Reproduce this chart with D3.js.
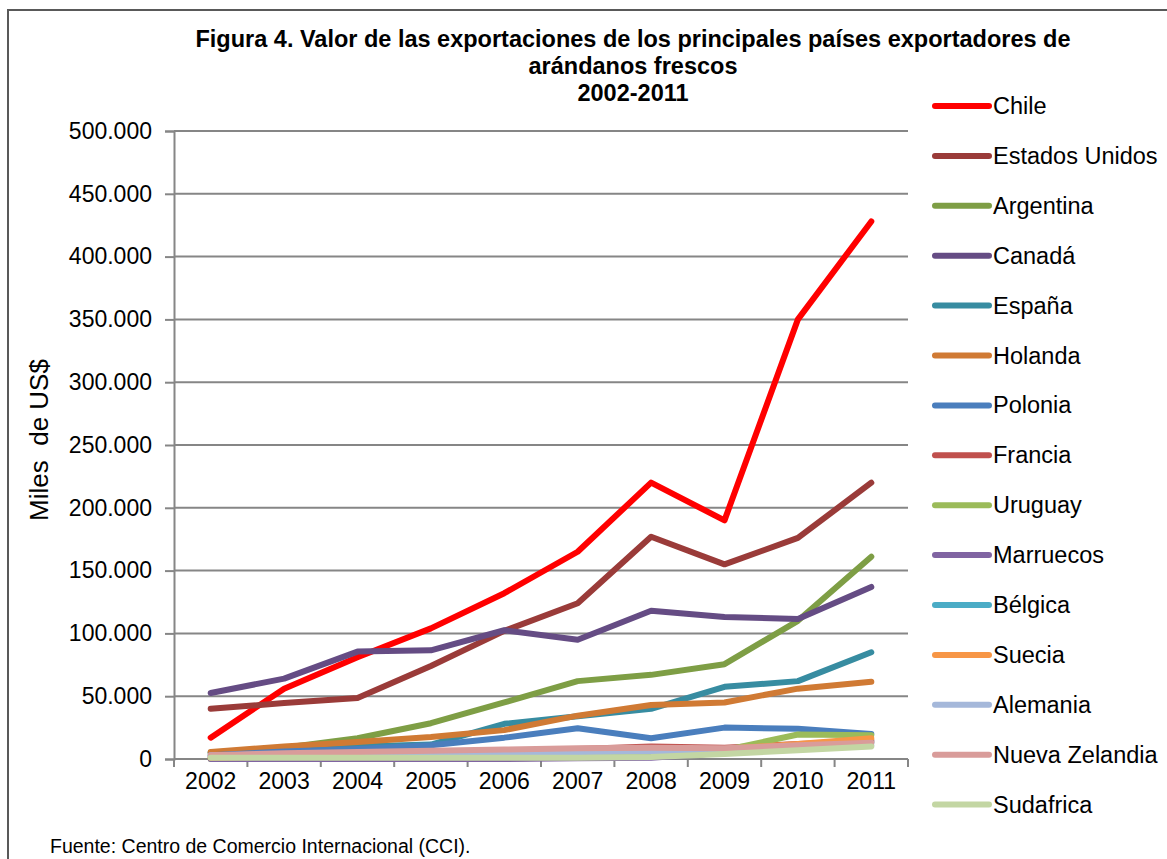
<!DOCTYPE html>
<html>
<head>
<meta charset="utf-8">
<script src="https://cdn.jsdelivr.net/npm/d3@7"></script>
<style>
  body { margin: 0; background: #fff; }
  text { font-family: "Liberation Sans", Arial, sans-serif; }
</style>
</head>
<body>
<svg id="svg"></svg>
<script>
// data (miles de US$)
const years = ["2002", "2003", "2004", "2005", "2006", "2007", "2008", "2009", "2010", "2011"];
const yTicks = [0, 50000, 100000, 150000, 200000, 250000, 300000, 350000, 400000, 450000, 500000];

const chile        = [17000, 56000, 81000, 104000, 132000, 165000, 220000, 190000, 350000, 428000];
const estadosUnidos = [40000, 44500, 48500, 74000, 102000, 124000, 177000, 155000, 176000, 220000];
const argentina    = [5000, 9000, 16500, 28500, 45000, 62000, 67000, 75500, 110000, 161000];
const canada       = [52500, 64000, 85500, 86500, 102500, 95000, 118000, 113000, 111500, 137000];
const espana       = [5000, 8000, 10000, 11500, 28000, 34000, 40000, 57500, 62000, 85000];
const holanda      = [5500, 10000, 13500, 17500, 23000, 34500, 43000, 45000, 56000, 61500];
const polonia      = [3000, 6000, 8000, 11000, 17000, 24500, 16500, 25000, 24000, 20000];
const francia      = [1000, 2000, 3000, 4000, 6000, 8000, 10000, 9000, 12000, 14000];
const uruguay      = [0, 0, 0, 0, 500, 1000, 2000, 7000, 19500, 19000];
const marruecos    = [0, 0, 0, 0, 0, 500, 1000, 5000, 10000, 15000];
const belgica      = [2000, 3000, 3500, 4000, 5000, 6000, 6500, 7000, 9000, 13000];
const suecia       = [1000, 2000, 3000, 4000, 5000, 6000, 7000, 8000, 12000, 16500];
const alemania     = [3000, 3500, 4000, 4500, 5000, 5500, 6000, 7000, 9000, 11000];
const nuevaZelandia = [3000, 4500, 5500, 6500, 7500, 8500, 9000, 8500, 11000, 13000];
const sudafrica    = [1000, 1000, 1000, 1000, 1000, 1000, 1500, 4000, 7000, 10000];

const seriesNames = ["Chile", "Estados Unidos", "Argentina", "Canadá", "España", "Holanda", "Polonia",
  "Francia", "Uruguay", "Marruecos", "Bélgica", "Suecia", "Alemania", "Nueva Zelandia", "Sudafrica"];
const seriesValues = [chile, estadosUnidos, argentina, canada, espana, holanda, polonia,
  francia, uruguay, marruecos, belgica, suecia, alemania, nuevaZelandia, sudafrica];
const seriesColors = ["#FF0000", "#9A3B39", "#7E9E45", "#654C84", "#378CA1", "#D07A34", "#4A7EBD",
  "#C0504D", "#9BBB59", "#8064A2", "#4BACC6", "#F79646", "#A5B8DA", "#D99C9A", "#C3D6A3"];

const series = seriesNames.map((name, i) => ({ name: name, values: seriesValues[i], color: seriesColors[i] }));

let layout = { "width": 1167, "height": 859,
               "plotLeft": 174, "plotRight": 908, "plotTop": 131, "plotBottom": 759 };

const fmt = d3.formatLocale({ decimal: ",", thousands: ".", grouping: [3], currency: ["", ""] }).format(",.0f");

let svg = d3.select("#svg").attr("width", layout.width).attr("height", layout.height);

// outer frame
svg.append("rect")
   .attr("x", 8).attr("y", 10)
   .attr("width", 1200).attr("height", 900)
   .attr("fill", "none").attr("stroke", "#595959").attr("stroke-width", 2);

let xScale = d3.scaleBand()
               .domain(years)
               .range([layout.plotLeft, layout.plotRight]);

let yScale = d3.scaleLinear()
               .domain([0, 500000])
               .range([layout.plotBottom, layout.plotTop]);

// gridlines
svg.append("g")
   .selectAll("line")
   .data(yTicks.slice(1))
   .join("line")
   .attr("x1", layout.plotLeft).attr("x2", layout.plotRight)
   .attr("y1", d => yScale(d)).attr("y2", d => yScale(d))
   .attr("stroke", "#868686").attr("stroke-width", 2);

// y axis
let yAxis = svg.append("g")
   .attr("transform", `translate(${layout.plotLeft}, 0)`)
   .call(d3.axisLeft(yScale).tickValues(yTicks).tickFormat(fmt).tickSize(9).tickPadding(13));
yAxis.select(".domain").attr("stroke", "#868686").attr("stroke-width", 2);
yAxis.selectAll(".tick line").attr("stroke", "#868686").attr("stroke-width", 2);
yAxis.selectAll(".tick text").attr("font-size", 23).attr("fill", "#000")
     .attr("font-family", "Liberation Sans, Arial, sans-serif");

// x axis
let xAxis = svg.append("g")
   .attr("transform", `translate(0, ${layout.plotBottom})`)
   .call(d3.axisBottom(xScale).tickSize(0).tickPadding(14));
xAxis.select(".domain").remove();
xAxis.selectAll(".tick text").attr("font-size", 23).attr("fill", "#000")
     .attr("font-family", "Liberation Sans, Arial, sans-serif");
svg.append("line")
   .attr("x1", layout.plotLeft).attr("x2", layout.plotRight)
   .attr("y1", layout.plotBottom).attr("y2", layout.plotBottom)
   .attr("stroke", "#868686").attr("stroke-width", 2);
svg.append("g")
   .selectAll("line")
   .data(years.concat(["end"]))
   .join("line")
   .attr("x1", (d, i) => layout.plotLeft + i * xScale.step())
   .attr("x2", (d, i) => layout.plotLeft + i * xScale.step())
   .attr("y1", layout.plotBottom).attr("y2", layout.plotBottom + 8)
   .attr("stroke", "#868686").attr("stroke-width", 2);

// lines
let line = d3.line()
             .x((d, i) => xScale(years[i]) + xScale.bandwidth() / 2)
             .y(d => yScale(d));

svg.append("g")
   .selectAll("path")
   .data(series)
   .join("path")
   .attr("d", d => line(d.values))
   .attr("fill", "none")
   .attr("stroke", d => d.color)
   .attr("stroke-width", 6)
   .attr("stroke-linejoin", "round")
   .attr("stroke-linecap", "round");

// legend
let legend = svg.append("g")
   .selectAll("g")
   .data(series)
   .join("g")
   .attr("transform", (d, i) => `translate(935, ${106 + i * 49.9})`);
legend.append("line")
   .attr("x1", 0).attr("x2", 54)
   .attr("stroke", d => d.color).attr("stroke-width", 6).attr("stroke-linecap", "round");
legend.append("text")
   .attr("x", 58).attr("y", 8)
   .attr("font-size", 23.5)
   .attr("fill", "#000")
   .text(d => d.name);

// title
svg.append("g")
   .selectAll("text")
   .data(["Figura 4. Valor de las exportaciones de los principales países exportadores de",
          "arándanos frescos", "2002-2011"])
   .join("text")
   .attr("x", 633)
   .attr("y", (d, i) => 47 + i * 27)
   .attr("text-anchor", "middle")
   .attr("font-size", 23.5)
   .attr("font-weight", "bold")
   .attr("fill", "#000")
   .text(d => d);

// y title
svg.append("text")
   .attr("transform", "translate(48, 440) rotate(-90)")
   .attr("text-anchor", "middle")
   .attr("font-size", 26)
   .attr("fill", "#000")
   .style("white-space", "pre")
   .text("Miles  de US$");

// source
svg.append("text")
   .attr("x", 50).attr("y", 853)
   .attr("font-size", 19.5)
   .attr("font-family", "Lato, sans-serif")
   .attr("fill", "#000")
   .text("Fuente: Centro de Comercio Internacional (CCI).");
</script>
</body>
</html>
